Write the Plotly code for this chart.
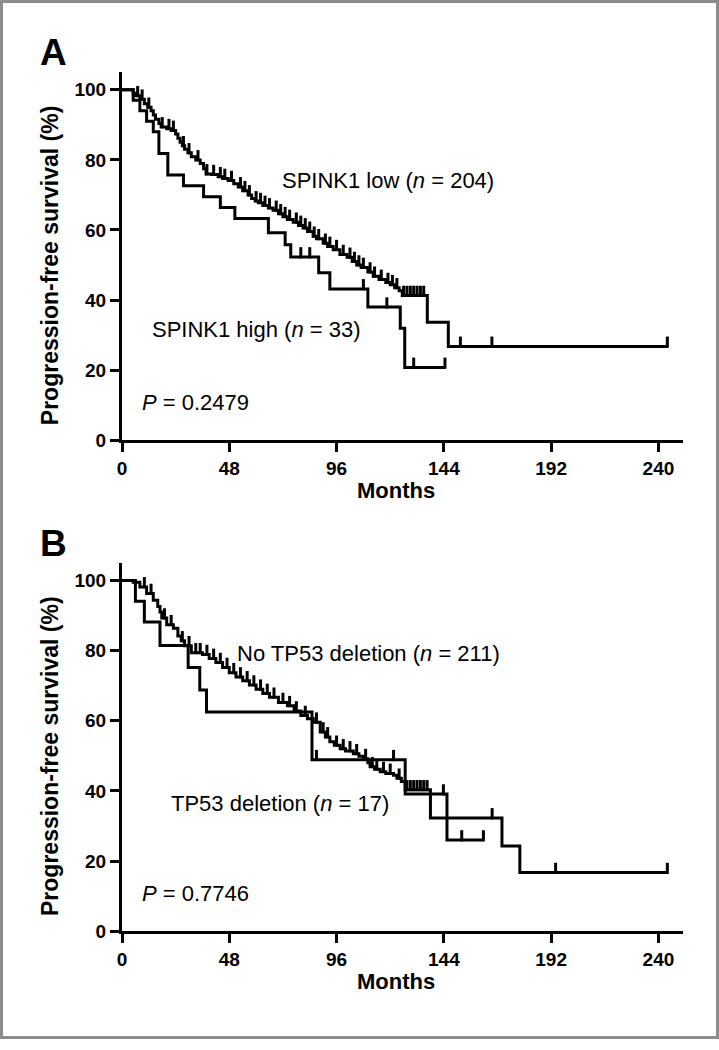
import numpy as np
import plotly.graph_objects as go

# ---------------- Panel A data ----------------
a_low_t = [5, 6, 8, 10, 11.5, 13, 14, 15, 16.5, 17.5, 20, 22, 24, 25, 26, 27, 28, 29.5, 31, 33, 35,
           36.5, 37.6, 40, 43, 45, 47.5, 50, 52, 54, 56.4, 58, 59.6, 61, 63, 65.5, 67.6, 70, 72, 74,
           76.6, 79, 81, 83, 85.5, 87, 90, 92, 94.5, 97.5, 100.7, 103, 105, 107, 110, 112.4, 115,
           118, 120, 122, 124, 125.4, 136.6, 146]
a_low_s = [99, 98.3, 97.3, 96, 95, 94, 92.8, 91.6, 90.4, 89.4, 88.9, 88.4, 87.4, 86.2, 85, 84, 83, 82,
           80.9, 80, 79, 77.5, 76, 75.8, 75.2, 74.7, 74.1, 73.2, 72.3, 71.2, 70, 69, 68.3, 67.8, 67,
           66.3, 65.6, 64.6, 63.8, 63, 62.2, 61.3, 60.6, 59.6, 58.2, 57.5, 56.2, 55.3, 54.4, 53, 52.2,
           51, 50, 49.3, 48, 46.8, 45.9, 45, 44.4, 43.5, 42.7, 41.3, 33.7, 26.8]
a_low_cens = [7, 9, 12, 18, 21, 23, 27.5, 30, 34, 38, 41, 44, 46, 49, 53, 55, 57, 60, 62, 64, 66, 69,
              71, 73, 75, 78, 80, 82, 84, 86, 88, 91, 93, 96, 99, 102, 104, 106, 108, 111, 113, 116,
              119, 121, 123, 126, 127.5, 129, 130.5, 132, 133.5, 135, 151.4, 165.5, 244]

a_high_t = [5, 8, 11, 14, 16.5, 20.5, 27.5, 36.5, 44, 50.5, 65.5, 73, 75.5, 88, 93, 110, 124.5, 126.5]
a_high_s = [97, 94, 91, 88, 81.8, 75.7, 72.6, 69.5, 66.4, 63.3, 59.2, 55.8, 52.3, 47.8, 43.2, 38.0,
            32.0, 20.8]
a_high_cens = [80, 84, 108, 118.5, 130.5, 144.5]

# ---------------- Panel B data ----------------
b_no_t = [5, 8, 11, 14, 16, 17, 17.8, 20, 23, 25, 26.5, 28, 31, 36, 39, 42, 45, 48, 51, 54, 57, 60,
          63, 66, 70, 74, 77, 80, 83, 85.6, 88.7, 91, 93, 95, 97.6, 100, 103.5, 106, 108, 110, 111,
          113, 115.5, 118, 121.5, 123, 125, 126.7, 138, 170, 178]
b_no_s = [99.5, 98.2, 96.3, 94.4, 92.6, 91, 89.3, 87.4, 86.4, 84.2, 82.8, 81.4, 79.4, 78.9, 77.8,
          76.6, 75.2, 73.7, 72.5, 71.4, 70.2, 69, 67.8, 66.7, 65.2, 64.3, 62.8, 61.5, 60.6, 59.6,
          56.8, 55.4, 54, 53, 52, 51.4, 50.6, 49.9, 49.2, 48, 46.9, 46.2, 45.5, 45, 44.5, 43.6, 42.7,
          40.3, 32.3, 24.3, 16.7]
b_no_cens = [10, 13, 19, 22, 27, 30, 33, 35, 38, 41, 44, 47, 50, 53, 56, 59, 62, 65, 68, 72, 75, 78,
             82, 87, 90, 92, 96, 99, 102, 105, 109, 112, 114, 117, 120, 124, 127.5, 129, 130.5, 132,
             133.5, 135, 136.5, 165.6, 194, 244]

b_del_t = [6, 10, 17, 29.6, 34.8, 37.8, 85, 126.7, 145.4]
b_del_s = [94.1, 88.2, 81.5, 75.2, 68.8, 62.5, 48.9, 39.1, 26.0]
b_del_cens = [87, 121.5, 143.8, 152, 161.7]

x_ticks = [0, 48, 96, 144, 192, 240]
y_ticks = [0, 20, 40, 60, 80, 100]

# ---------------- helpers ----------------
W, H = 719, 1050
ML, MR = 122, 36
PW = W - ML - MR


def px2paper_x(px):
    return (px - ML) / PW


def py2paper_y(py):
    return 1 - py / H


def step_path(t, s, cens):
    end = max(cens)
    xs = [0] + list(t) + [end]
    ys = [100] + list(s) + [s[-1]]
    return xs, ys


def surv_at(t, s, c):
    tt = np.array(t)
    i = np.searchsorted(tt, c, side="right") - 1
    return 100.0 if i < 0 else s[i]


fig = go.Figure()
CEN_OFF = 1.2  # small upward shift so the tick sits on top of the line


def add_curve(t, s, cens, xa, ya):
    xs, ys = step_path(t, s, cens)
    fig.add_trace(go.Scatter(x=xs, y=ys, mode="lines", line=dict(color="black", width=3, shape="hv"),
                             xaxis=xa, yaxis=ya, showlegend=False, hoverinfo="skip"))
    cy = [surv_at(t, s, c) + CEN_OFF for c in cens]
    fig.add_trace(go.Scatter(x=cens, y=cy, mode="markers",
                             marker=dict(symbol="line-ns", size=8, line=dict(color="black", width=3)),
                             xaxis=xa, yaxis=ya, showlegend=False, hoverinfo="skip", cliponaxis=False))


add_curve(a_low_t, a_low_s, a_low_cens, "x", "y")
add_curve(a_high_t, a_high_s, a_high_cens, "x", "y")
add_curve(b_no_t, b_no_s, b_no_cens, "x2", "y2")
add_curve(b_del_t, b_del_s, b_del_cens, "x2", "y2")

FONT = "Arial, Liberation Sans, sans-serif"
tickfont = dict(family=FONT, size=19, color="black", weight="bold")

xcommon = dict(range=[0, 251], domain=[0, 1], showline=True, linewidth=3, linecolor="black",
               ticks="outside", ticklen=9, tickwidth=3, tickcolor="black", tickvals=x_ticks,
               tickfont=tickfont, showgrid=False, zeroline=False, ticklabelstandoff=0)
ycommon = dict(range=[0, 105], showline=True, linewidth=3, linecolor="black",
               ticks="outside", ticklen=9, tickwidth=3, tickcolor="black", tickvals=y_ticks,
               tickfont=tickfont, showgrid=False, zeroline=False)

fig.update_layout(
    width=W, height=H, margin=dict(l=ML, r=MR, t=0, b=0),
    paper_bgcolor="white", plot_bgcolor="white",
    xaxis=dict(anchor="y", **xcommon),
    yaxis=dict(anchor="x", domain=[py2paper_y(445), py2paper_y(73)], **ycommon),
    xaxis2=dict(anchor="y2", **xcommon),
    yaxis2=dict(anchor="x2", domain=[py2paper_y(941), py2paper_y(569)], **ycommon),
)

ann_font = dict(family=FONT, size=22, color="black")
title_font = dict(family=FONT, size=23, color="black", weight="bold")
months_font = dict(family=FONT, size=22, color="black", weight="bold")


def ann(text, px, py, font, xanchor="left", angle=0):
    fig.add_annotation(text=text, x=px2paper_x(px), y=py2paper_y(py), xref="paper", yref="paper",
                       xanchor=xanchor, yanchor="middle", showarrow=False, font=font, textangle=angle)


ann("A", 38, 53, dict(family=FONT, size=37, color="black", weight="bold"))
ann("B", 38, 549, dict(family=FONT, size=37, color="black", weight="bold"))
ann("SPINK1 low (<i>n</i> = 204)", 280, 182, ann_font)
ann("SPINK1 high (<i>n</i> = 33)", 150, 333, ann_font)
ann("<i>P</i> = 0.2479", 140, 407, ann_font)
ann("No TP53 deletion (<i>n</i> = 211)", 235, 660, ann_font)
ann("TP53 deletion (<i>n</i> = 17)", 169, 812, ann_font)
ann("<i>P</i> = 0.7746", 140, 903, ann_font)
ann("Months", 396, 496, months_font, xanchor="center")
ann("Months", 396, 992, months_font, xanchor="center")
ann("Progression-free survival (%)", 50, 268, title_font, xanchor="center", angle=-90)
ann("Progression-free survival (%)", 50, 764, title_font, xanchor="center", angle=-90)

fig.add_shape(type="rect", xref="paper", yref="paper",
              x0=px2paper_x(1.5), x1=px2paper_x(W - 1.5), y0=py2paper_y(H - 1.5), y1=py2paper_y(1.5),
              line=dict(color="#8c8c8c", width=3), fillcolor="rgba(0,0,0,0)", layer="above")

fig.write_html("out.html", config={"displayModeBar": False},
               post_script="document.body.style.margin='0px';"
                           "document.body.style.overflow='hidden';"
                           "document.documentElement.style.overflow='hidden';")
